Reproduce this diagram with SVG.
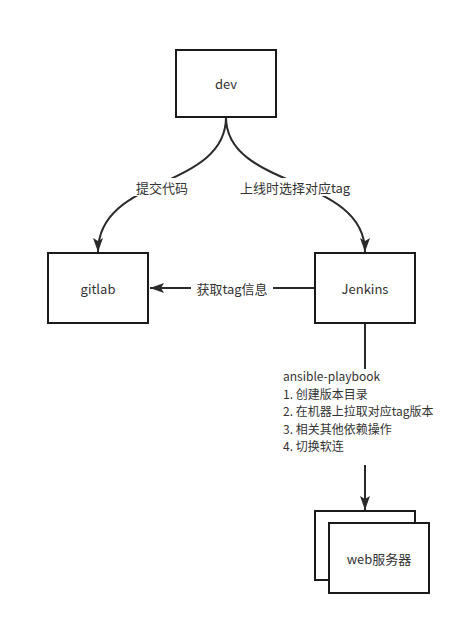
<svg xmlns="http://www.w3.org/2000/svg" width="461" height="624" viewBox="0 0 461 624">
<defs>
<style>
.box{fill:#fff;stroke:#1a1a1a;stroke-width:2}
.edge{fill:none;stroke:#2a2a2a;stroke-width:2}
.t{font-family:"Noto Sans CJK SC","Noto Sans",sans-serif;font-size:13px;fill:#333}
.s{font-size:12px}
.c{text-anchor:middle;dominant-baseline:central}
.lbl{fill:#fff;stroke:none}
</style>
<marker id="ah" viewBox="0 0 14 10" refX="14" refY="5" markerWidth="14" markerHeight="10" markerUnits="userSpaceOnUse" orient="auto">
<path d="M0,0 L14,5 L0,10 L3,5 Z" fill="#2a2a2a"/>
</marker>
</defs>
<rect width="461" height="624" fill="#fff"/>
<g id="connectors">
<path class="edge" d="M226,117 C226,190 98,175 98,252" marker-end="url(#ah)"/>
<path class="edge" d="M226,117 C226,190 365,175 365,252" marker-end="url(#ah)"/>
<path class="edge" d="M315,288 L150,288" marker-end="url(#ah)"/>
<path class="edge" d="M365,323 L365,369"/>
<path class="edge" d="M365,465 L365,510" marker-end="url(#ah)"/>
<rect class="lbl" x="132" y="178" width="60" height="18"/>
<text class="t c" x="162" y="187">提交代码</text>
<rect class="lbl" x="236" y="178" width="118" height="18"/>
<text class="t c" x="295" y="187">上线时选择对应tag</text>
<rect class="lbl" x="191" y="280" width="82" height="16"/>
<text class="t c" x="232" y="288">获取tag信息</text>
<text class="t s" x="283" y="381">ansible-playbook</text>
<text class="t s" x="283" y="398.5">1. 创建版本目录</text>
<text class="t s" x="283" y="416">2. 在机器上拉取对应tag版本</text>
<text class="t s" x="283" y="433.5">3. 相关其他依赖操作</text>
<text class="t s" x="283" y="451">4. 切换软连</text>
</g>
<g id="dev">
<rect class="box" x="176" y="50" width="100" height="67"/>
<text class="t c" x="226" y="83">dev</text>
</g>
<g id="gitlab">
<rect class="box" x="48" y="253" width="100" height="70"/>
<text class="t c" x="98" y="288">gitlab</text>
</g>
<g id="jenkins">
<rect class="box" x="315" y="253" width="100" height="70"/>
<text class="t c" x="365" y="288">Jenkins</text>
</g>
<g id="web">
<rect class="box" x="315" y="511" width="100" height="69"/>
<rect class="box" x="329" y="523" width="100" height="70"/>
<text class="t c" x="379" y="558">web服务器</text>
</g>
</svg>
